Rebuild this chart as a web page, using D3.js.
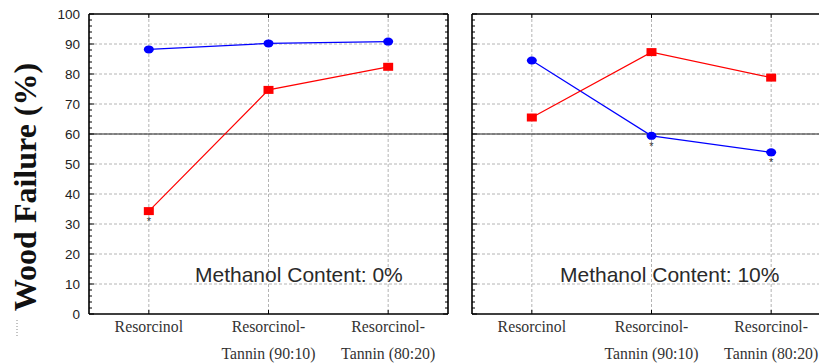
<!DOCTYPE html>
<html>
<head>
<meta charset="utf-8">
<script src="https://cdn.jsdelivr.net/npm/d3@7"></script>
<style>
  html, body { margin: 0; padding: 0; background: #fff; }
  svg { display: block; }
</style>
</head>
<body>
<svg id="chart" width="819" height="363"></svg>
<script>
// Adhesive formulations on the category axis
const categories = ["Resorcinol", "Resorcinol-Tannin (90:10)", "Resorcinol-Tannin (80:20)"];
const categoryLines = [["Resorcinol"], ["Resorcinol-", "Tannin (90:10)"], ["Resorcinol-", "Tannin (80:20)"]];

// Wood failure (%) at 0% methanol
const blue0 = [88.2, 90.2, 90.8];
const red0 = [34.3, 74.7, 82.4];
// Wood failure (%) at 10% methanol
const blue10 = [84.5, 59.4, 53.9];
const red10 = [65.5, 87.3, 78.8];

// Points flagged with an asterisk: [panel, series, category index]
const flagged = [[0, "red", 0], [1, "blue", 1], [1, "blue", 2]];

const yTicks = [0, 10, 20, 30, 40, 50, 60, 70, 80, 90, 100];
const referenceLevel = 60;
const panelTitles = ["Methanol Content: 0%", "Methanol Content: 10%"];
const yTitle = "Wood Failure (%)";

const svg = d3.select("#chart");
const plotTop = 14, plotBottom = 314;
const y = d3.scaleLinear().domain([0, 100]).range([plotBottom, plotTop]);

const panels = [
  { x0: 89, x1: 448, blue: blue0, red: red0, title: panelTitles[0], titleX: 195, labels: true, rightBorder: true },
  { x0: 472, x1: 831, blue: blue10, red: red10, title: panelTitles[1], titleX: 560, labels: false, rightBorder: false }
];

panels.forEach((p, pi) => {
  const x = d3.scalePoint().domain(categories).range([p.x0, p.x1]).padding(0.5);
  const g = svg.append("g");

  // dashed grid
  g.selectAll("line.hgrid").data(yTicks.filter(t => t > 0 && t < 100)).join("line")
    .attr("class", "hgrid")
    .attr("x1", p.x0).attr("x2", p.x1)
    .attr("y1", d => y(d)).attr("y2", d => y(d))
    .attr("stroke", "#b4b4b4").attr("stroke-width", 1).attr("stroke-dasharray", "3,2");
  g.selectAll("line.vgrid").data(categories).join("line")
    .attr("class", "vgrid")
    .attr("x1", d => x(d)).attr("x2", d => x(d))
    .attr("y1", plotTop).attr("y2", plotBottom)
    .attr("stroke", "#b4b4b4").attr("stroke-width", 1).attr("stroke-dasharray", "3,2");

  // reference line
  g.append("line")
    .attr("x1", p.x0).attr("x2", p.x1)
    .attr("y1", y(referenceLevel)).attr("y2", y(referenceLevel))
    .attr("stroke", "#222").attr("stroke-width", 1.2);

  // left y axis with inward ticks
  const minor = d3.range(0, 101, 2);
  const leftAxis = g.append("g").attr("transform", `translate(${p.x0},0)`);
  leftAxis.selectAll("line").data(minor).join("line")
    .attr("x1", 0).attr("x2", d => d % 10 === 0 ? 5 : 3)
    .attr("y1", d => y(d)).attr("y2", d => y(d))
    .attr("stroke", "#000").attr("stroke-width", 1);
  if (p.labels) {
    leftAxis.selectAll("text").data(yTicks).join("text")
      .attr("x", -9).attr("y", d => y(d) + 5)
      .attr("text-anchor", "end")
      .style("font-family", "'Liberation Sans', Arial, sans-serif")
      .style("font-size", "13.5px").attr("fill", "#222")
      .text(d => d);
  }
  if (p.rightBorder) {
    const rightAxis = g.append("g").attr("transform", `translate(${p.x1},0)`);
    rightAxis.selectAll("line").data(minor).join("line")
      .attr("x1", 0).attr("x2", d => d % 10 === 0 ? -5 : -3)
      .attr("y1", d => y(d)).attr("y2", d => y(d))
      .attr("stroke", "#000").attr("stroke-width", 1);
  }

  // category ticks on top and bottom edges
  g.selectAll("line.tt").data(categories).join("line")
    .attr("class", "tt")
    .attr("x1", d => x(d)).attr("x2", d => x(d))
    .attr("y1", plotTop).attr("y2", plotTop + 4)
    .attr("stroke", "#000").attr("stroke-width", 1);
  g.selectAll("line.bt").data(categories).join("line")
    .attr("class", "bt")
    .attr("x1", d => x(d)).attr("x2", d => x(d))
    .attr("y1", plotBottom).attr("y2", plotBottom - 4)
    .attr("stroke", "#000").attr("stroke-width", 1);

  // frame
  const frame = d3.path();
  frame.moveTo(p.x0, plotTop); frame.lineTo(p.x0, plotBottom);
  frame.moveTo(p.x0, plotBottom); frame.lineTo(p.x1, plotBottom);
  frame.moveTo(p.x0, plotTop); frame.lineTo(p.x1, plotTop);
  if (p.rightBorder) { frame.moveTo(p.x1, plotTop); frame.lineTo(p.x1, plotBottom); }
  g.append("path").attr("d", frame.toString()).attr("fill", "none")
    .attr("stroke", "#000").attr("stroke-width", 1.6);

  // category labels
  g.selectAll("text.cat").data(categories).join("text")
    .attr("class", "cat")
    .attr("x", d => x(d)).attr("text-anchor", "middle")
    .style("font-family", "'Liberation Serif', 'Times New Roman', serif")
    .style("font-size", "15.8px").attr("fill", "#333")
    .each(function (d, i) {
      const t = d3.select(this);
      categoryLines[i].forEach((ln, k) => {
        t.append("tspan").attr("x", x(d)).attr("y", 332 + k * 27).text(ln);
      });
    });

  // panel annotation
  g.append("text")
    .attr("x", p.titleX).attr("y", 282)
    .style("font-family", "'Liberation Sans', Arial, sans-serif")
    .style("font-size", "21px").attr("fill", "#2a2a2a")
    .text(p.title);

  // series lines
  const line = d3.line().x((d, i) => x(categories[i])).y(d => y(d));
  g.append("path").datum(p.blue).attr("d", line)
    .attr("fill", "none").attr("stroke", "#0000ff").attr("stroke-width", 1.2);
  g.append("path").datum(p.red).attr("d", line)
    .attr("fill", "none").attr("stroke", "#ff0000").attr("stroke-width", 1.2);

  // markers
  g.selectAll("ellipse.b").data(p.blue).join("ellipse")
    .attr("class", "b")
    .attr("cx", (d, i) => x(categories[i])).attr("cy", d => y(d))
    .attr("rx", 5).attr("ry", 4).attr("fill", "#0000ff");
  g.selectAll("rect.r").data(p.red).join("rect")
    .attr("class", "r")
    .attr("x", (d, i) => x(categories[i]) - 5).attr("y", d => y(d) - 4)
    .attr("width", 10).attr("height", 8).attr("fill", "#ff0000");

  // significance asterisks
  flagged.filter(f => f[0] === pi).forEach(f => {
    const v = (f[1] === "red" ? p.red : p.blue)[f[2]];
    g.append("text")
      .attr("x", x(categories[f[2]])).attr("y", y(v) + 14)
      .attr("text-anchor", "middle")
      .style("font-family", "'Liberation Sans', Arial, sans-serif")
      .style("font-size", "11px").attr("fill", "#333")
      .text("*");
  });
});

// y axis title
svg.append("text")
  .attr("transform", `translate(36, ${(plotTop + plotBottom) / 2 + 23}) rotate(-90)`)
  .attr("text-anchor", "middle")
  .style("font-family", "'Liberation Serif', 'Times New Roman', serif")
  .style("font-size", "32px").style("font-weight", "bold").attr("fill", "#111")
  .text(yTitle);

// small dotted mark below the title
svg.append("line")
  .attr("x1", 17).attr("x2", 17).attr("y1", 320).attr("y2", 336)
  .attr("stroke", "#888").attr("stroke-width", 1).attr("stroke-dasharray", "1,2");
</script>
</body>
</html>
